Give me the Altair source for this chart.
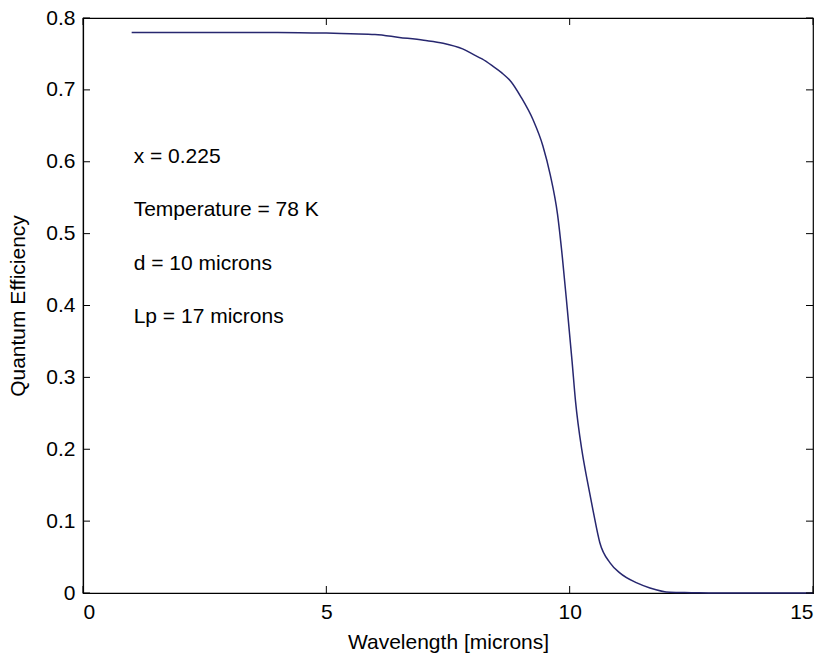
import altair as alt
import pandas as pd

# Quantum efficiency curve of an HgCdTe photodiode vs. wavelength
wavelength = [1.0, 2.0, 3.0, 4.0, 5.0, 5.5, 6.0, 6.5, 7.0, 7.4, 7.8, 8.0, 8.2,
              8.4, 8.6, 8.8, 9.0, 9.25, 9.45, 9.6, 9.75, 9.85, 9.95, 10.05,
              10.12, 10.25, 10.36, 10.48, 10.62, 10.83, 11.03, 11.38, 11.65,
              12.06, 12.5, 13.0, 14.0, 15.0]
efficiency = [0.780, 0.780, 0.780, 0.780, 0.779, 0.778, 0.777, 0.773, 0.769,
              0.765, 0.757, 0.750, 0.743, 0.734, 0.724, 0.711, 0.690, 0.658,
              0.622, 0.582, 0.527, 0.467, 0.396, 0.322, 0.267, 0.199, 0.157,
              0.115, 0.070, 0.042, 0.028, 0.014, 0.007, 0.001, 0.0005, 0.0,
              0.0, 0.0]

# Parameter annotations
note_text = ["x = 0.225", "Temperature = 78 K", "d = 10 microns", "Lp = 17 microns"]
note_x = [1.0, 1.0, 1.0, 1.0]
note_y = [0.607, 0.533, 0.458, 0.384]

x_ticks = [0, 5, 10, 15]
y_ticks = [0, 0.1, 0.2, 0.3, 0.4, 0.5, 0.6, 0.7, 0.8]

FONT = "Liberation Sans"
FS = 21
W, H = 730, 575
TICK = 7

curve = pd.DataFrame({"wavelength": wavelength, "qe": efficiency})
notes = pd.DataFrame({"label": note_text, "x": note_x, "y": note_y})
xt = pd.DataFrame({"t": x_ticks})
yt = pd.DataFrame({"t": y_ticks})

x_scale = alt.Scale(domain=[0, 15], nice=False, zero=False)
y_scale = alt.Scale(domain=[0, 0.8], nice=False)

line = alt.Chart(curve).mark_line(color="#27276f", strokeWidth=1.5,
                                  interpolate="monotone").encode(
    x=alt.X("wavelength:Q", scale=x_scale,
            axis=alt.Axis(title="Wavelength [microns]", values=x_ticks,
                          format="~g", ticks=False, labelPadding=8,
                          titlePadding=9, grid=False)),
    y=alt.Y("qe:Q", scale=y_scale,
            axis=alt.Axis(title="Quantum Efficiency", values=y_ticks,
                          format="~g", ticks=False, labelPadding=8,
                          titlePadding=17, grid=False)),
)

text = alt.Chart(notes).mark_text(align="left", baseline="middle", font=FONT,
                                  fontSize=FS, color="black", dx=2).encode(
    x=alt.X("x:Q", scale=x_scale),
    y=alt.Y("y:Q", scale=y_scale),
    text="label:N",
)

# Inward-pointing tick marks on all four sides of the box
xb = alt.Chart(xt).mark_rule(color="black").encode(
    x=alt.X("t:Q", scale=x_scale), y=alt.value(H), y2=alt.value(H - TICK))
xtop = alt.Chart(xt).mark_rule(color="black").encode(
    x=alt.X("t:Q", scale=x_scale), y=alt.value(0), y2=alt.value(TICK))
yl = alt.Chart(yt).mark_rule(color="black").encode(
    y=alt.Y("t:Q", scale=y_scale), x=alt.value(0), x2=alt.value(TICK))
yr = alt.Chart(yt).mark_rule(color="black").encode(
    y=alt.Y("t:Q", scale=y_scale), x=alt.value(W), x2=alt.value(W - TICK))

chart = alt.layer(line, text, xb, xtop, yl, yr).properties(
    width=W, height=H,
    autosize=alt.AutoSizeParams(type="none"),
    padding={"left": 83, "top": 18, "right": 16, "bottom": 66},
    background="white",
).configure_view(
    stroke="black", strokeWidth=1.2
).configure_axis(
    domain=True, domainColor="black", domainWidth=1.2,
    labelFont=FONT, labelFontSize=FS, labelColor="black",
    titleFont=FONT, titleFontSize=FS, titleFontWeight="normal", titleColor="black",
)

chart.save("out.html", embed_options={"renderer": "svg", "actions": False})
